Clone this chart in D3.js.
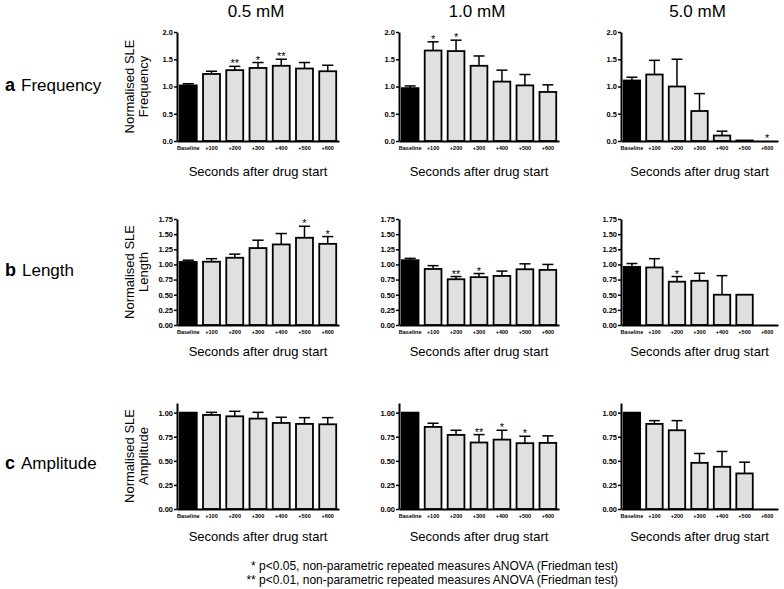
<!DOCTYPE html>
<html><head><meta charset="utf-8">
<script src="https://cdn.jsdelivr.net/npm/d3@7"></script>
<style>
body{margin:0;background:#fff;}
text{font-family:Arial,"Liberation Sans",Helvetica,sans-serif;fill:#000;}
</style>
</head><body>
<svg id="chart" width="784" height="589"></svg>
<script>
// ---------- DATA ----------
const categories = ["Baseline", "+100", "+200", "+300", "+400", "+500", "+600"];
const concentrations = ["0.5 mM", "1.0 mM", "5.0 mM"];
const rowLetters = ["a", "b", "c"];
const rowNames = ["Frequency", "Length", "Amplitude"];

// Frequency (rows: 0.5, 1.0, 5.0 mM)
const freqMean = [
  [1.02, 1.23, 1.30, 1.34, 1.38, 1.33, 1.28],
  [0.97, 1.66, 1.65, 1.38, 1.09, 1.02, 0.90],
  [1.11, 1.22, 1.00, 0.55, 0.10, 0.01, 0.00]
];
const freqErr = [
  [0.03, 0.05, 0.07, 0.10, 0.12, 0.11, 0.11],
  [0.04, 0.16, 0.20, 0.18, 0.21, 0.20, 0.13],
  [0.06, 0.26, 0.50, 0.32, 0.08, 0, 0]
];
const freqStars = [
  ["", "", "**", "*", "**", "", ""],
  ["", "*", "*", "", "", "", ""],
  ["", "", "", "", "", "", "*"]
];

// Length
const lenMean = [
  [1.04, 1.045, 1.11, 1.27, 1.33, 1.44, 1.34],
  [1.07, 0.925, 0.755, 0.79, 0.81, 0.92, 0.91],
  [0.96, 0.95, 0.715, 0.73, 0.50, 0.50, null]
];
const lenErr = [
  [0.03, 0.05, 0.06, 0.13, 0.18, 0.19, 0.12],
  [0.03, 0.055, 0.045, 0.06, 0.08, 0.09, 0.09],
  [0.055, 0.145, 0.085, 0.125, 0.315, 0, null]
];
const lenStars = [
  ["", "", "", "", "", "*", "*"],
  ["", "", "**", "*", "", "", ""],
  ["", "", "*", "", "", "", ""]
];

// Amplitude
const ampMean = [
  [1.00, 0.976, 0.962, 0.938, 0.893, 0.883, 0.879],
  [1.00, 0.852, 0.769, 0.690, 0.720, 0.683, 0.686],
  [1.00, 0.883, 0.817, 0.479, 0.438, 0.369, null]
];
const ampErr = [
  [0, 0.027, 0.052, 0.065, 0.059, 0.065, 0.069],
  [0, 0.038, 0.048, 0.082, 0.097, 0.072, 0.073],
  [0, 0.034, 0.100, 0.097, 0.159, 0.117, null]
];
const ampStars = [
  ["", "", "", "", "", "", ""],
  ["", "", "", "**", "*", "*", ""],
  ["", "", "", "", "", "", ""]
];

const yMax = [2.0, 1.75, 1.1];
const yTicks = [
  [0, 0.5, 1.0, 1.5, 2.0],
  [0, 0.25, 0.5, 0.75, 1.0, 1.25, 1.5, 1.75],
  [0, 0.25, 0.5, 0.75, 1.0]
];
const yTickFormats = [".1f", ".2f", ".2f"];
const xTitle = "Seconds after drug start";
const yTitle = "Normalised SLE";
const footnotes = [
  "* p<0.05, non-parametric repeated measures ANOVA (Friedman test)",
  "** p<0.01, non-parametric repeated measures ANOVA (Friedman test)"
];

// ---------- LAYOUT ----------
const svg = d3.select("#chart");
const colLeft = [177, 399, 621];
const colRight = [339, 559, 778];
const rowTop = [32, 219, 403];
const rowBottom = [141, 325, 509];
const xTitleY = [176, 356, 541];
const rowLabelY = [91, 276, 469];

const means = [freqMean, lenMean, ampMean];
const errs = [freqErr, lenErr, ampErr];
const stars = [freqStars, lenStars, ampStars];

// column titles
concentrations.forEach((c, j) => {
  svg.append("text").attr("x", (colLeft[j] + colRight[j]) / 2 - 2).attr("y", 17)
    .attr("text-anchor", "middle").style("font-size", "17px").text(c);
});

// row labels
rowLetters.forEach((l, i) => {
  const t = svg.append("text").attr("x", 5).attr("y", rowLabelY[i]).style("font-size", "17px");
  t.append("tspan").style("font-weight", "bold").style("font-size", "18px").text(l);
  t.append("tspan").attr("dx", 6).text(rowNames[i]);
});

for (let i = 0; i < 3; i++) {
  for (let j = 0; j < 3; j++) {
    const L = colLeft[j], R = colRight[j], T = rowTop[i], B = rowBottom[i];
    const x = d3.scaleBand().domain(categories).range([L, R]).paddingInner(0.27).paddingOuter(0.12);
    const y = d3.scaleLinear().domain([0, yMax[i]]).range([B, T]);
    const g = svg.append("g");
    const bw = x.bandwidth();
    const data = categories.map((c, k) => ({
      c, k, v: means[i][j][k], e: errs[i][j][k], s: stars[i][j][k]
    }));

    // error whiskers (upper only)
    data.filter(d => d.v !== null && d.e).forEach(d => {
      const cx = x(d.c) + bw / 2;
      g.append("line").attr("x1", cx).attr("x2", cx)
        .attr("y1", y(d.v)).attr("y2", y(d.v + d.e))
        .attr("stroke", "#000").attr("stroke-width", 1.5);
      g.append("line").attr("x1", cx - bw * 0.33).attr("x2", cx + bw * 0.33)
        .attr("y1", y(d.v + d.e)).attr("y2", y(d.v + d.e))
        .attr("stroke", "#000").attr("stroke-width", 1.5);
    });

    // bars
    g.selectAll("rect.bar").data(data.filter(d => d.v !== null)).enter().append("rect")
      .attr("class", "bar")
      .attr("x", d => x(d.c)).attr("width", bw)
      .attr("y", d => y(d.v)).attr("height", d => B - y(d.v))
      .attr("fill", d => d.k === 0 ? "#000" : "#e0e0e0")
      .attr("stroke", "#000").attr("stroke-width", 1.8);

    // stars
    data.filter(d => d.s).forEach(d => {
      const top = d.v + (d.e || 0);
      g.append("text").attr("x", x(d.c) + bw / 2).attr("y", y(top) + 1)
        .attr("text-anchor", "middle").style("font-size", "11px").text(d.s);
    });

    // y axis
    const ya = g.append("g").attr("transform", `translate(${L},0)`)
      .call(d3.axisLeft(y).tickValues(yTicks[i]).tickFormat(d3.format(yTickFormats[i]))
        .tickSize(3).tickSizeOuter(0).tickPadding(1));
    ya.select(".domain").attr("stroke-width", 2);
    ya.selectAll(".tick line").attr("stroke-width", 1.5);
    ya.selectAll("text").style("font-size", "7.5px").style("font-weight", "bold")
      .style("font-family", "Arial,'Liberation Sans',sans-serif");

    // x axis
    const xa = g.append("g").attr("transform", `translate(0,${B})`)
      .call(d3.axisBottom(x).tickSize(0).tickSizeOuter(0).tickPadding(5));
    xa.select(".domain").attr("stroke-width", 2);
    xa.selectAll("text").style("font-size", "5.5px").style("font-weight", "bold")
      .style("font-family", "Arial,'Liberation Sans',sans-serif");

    // x title
    svg.append("text").attr("x", (L + R) / 2).attr("y", xTitleY[i])
      .attr("text-anchor", "middle").style("font-size", "13px").text(xTitle);

    // y title (first column only)
    if (j === 0) {
      const cy = (T + B) / 2;
      const yt = svg.append("text").attr("transform", `translate(134,${cy}) rotate(-90)`)
        .attr("text-anchor", "middle").style("font-size", "13px");
      yt.append("tspan").attr("x", 0).attr("y", 0).text(yTitle);
      yt.append("tspan").attr("x", 0).attr("y", 14).text(rowNames[i]);
    }
  }
}

// footnotes
footnotes.forEach((f, k) => {
  svg.append("text").attr("x", 618).attr("y", 570 + k * 14)
    .attr("text-anchor", "end").style("font-size", "12px").text(f);
});
</script>
</body></html>
